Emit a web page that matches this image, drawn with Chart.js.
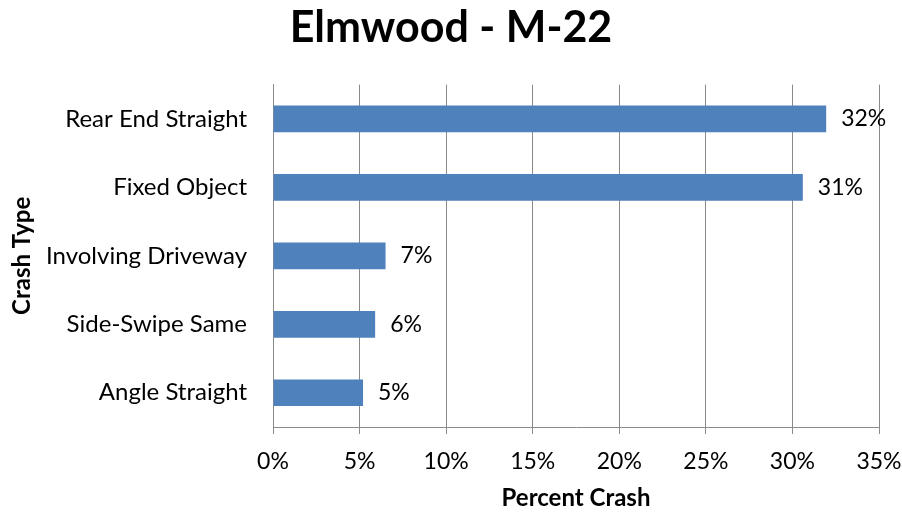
<!DOCTYPE html>
<html>
<head>
<meta charset="utf-8">
<title>Elmwood - M-22</title>
<script src="https://cdn.jsdelivr.net/npm/chart.js@4"></script>
<style>
    html, body { margin:0; padding:0; background:#fff; }
    #contenedor { width:902px; height:513px; position:relative; }
</style>
</head>
<body>

<div id="contenedor">
    <canvas id="graficoChoques"></canvas>
</div>

<script>

const tiposChoque = [
    "Rear End Straight",
    "Fixed Object",
    "Involving Driveway",
    "Side-Swipe Same",
    "Angle Straight"
];

const porcentajes = [
    31.95,
    30.6,
    6.5,
    5.9,
    5.2
];

const ticksPorcentaje = [
    0, 5, 10, 15, 20, 25, 30, 35
];

const fuente = "Lato, 'Open Sans', sans-serif";

// etiquetas al final de cada barra
const etiquetasBarras = {

    id:"etiquetasBarras",

    afterDatasetsDraw(chart){

        const ctx = chart.ctx;

        const meta = chart.getDatasetMeta(0);

        ctx.save();

        ctx.font = `23px ${fuente}`;
        ctx.fillStyle = "#000";
        ctx.textAlign = "left";
        ctx.textBaseline = "middle";

        meta.data.forEach((barra, i) => {

            ctx.fillText(
                `${Math.round(porcentajes[i])}%`,
                barra.x + 15,
                barra.y
            );

        });

        ctx.restore();

    }

};

window.onload = () => {

    new Chart(

        document.getElementById(
            "graficoChoques"
        ),

        {

            type:"bar",

            data:{

                labels:
                tiposChoque,

                datasets:[{

                    label:
                    "Percent Crash",

                    data:
                    porcentajes,

                    backgroundColor:"#4F81BD",

                    barPercentage:0.39,

                    categoryPercentage:1

                }]

            },

            options:{

                indexAxis:"y",

                responsive:true,

                maintainAspectRatio:false,

                animation:false,

                layout:{
                    padding:0
                },

                plugins:{

                    legend:{ display:false },

                    tooltip:{ enabled:false },

                    title:{
                        display:true,
                        text:"Elmwood - M-22",
                        color:"#000",
                        font:{ family:fuente, size:43, weight:"bold", lineHeight:1.2 },
                        padding:{ top:2, bottom:31 }
                    }

                },

                scales:{

                    x:{

                        min:0,

                        max:35,

                        afterBuildTicks:(escala) => {
                            escala.ticks = ticksPorcentaje.map(v => ({ value:v }));
                        },

                        afterFit:(escala) => {
                            escala.height = 86;
                            escala.paddingRight = 23;
                        },

                        grid:{
                            color:"#8a8a8a",
                            lineWidth:1,
                            drawTicks:true,
                            tickLength:7
                        },

                        border:{
                            display:true,
                            color:"#8a8a8a",
                            width:1
                        },

                        ticks:{
                            color:"#000",
                            padding:14,
                            font:{ family:fuente, size:23 },
                            callback:(v) => `${v}%`
                        },

                        title:{
                            display:true,
                            text:"Percent Crash",
                            color:"#000",
                            font:{ family:fuente, size:24, weight:"bold", lineHeight:1.2 },
                            padding:{ top:0, bottom:0 }
                        }

                    },

                    y:{

                        afterFit:(escala) => {
                            escala.width = 273;
                        },

                        grid:{
                            display:false,
                            drawTicks:false
                        },

                        border:{
                            display:true,
                            color:"#8a8a8a",
                            width:1
                        },

                        ticks:{
                            color:"#000",
                            padding:26,
                            font:{ family:fuente, size:24 }
                        },

                        title:{
                            display:true,
                            text:"Crash Type",
                            color:"#000",
                            font:{ family:fuente, size:24, weight:"bold", lineHeight:1.2 },
                            padding:{ top:8, bottom:0 }
                        }

                    }

                }

            },

            plugins:[ etiquetasBarras ]

        }

    );

};

</script>

</body>
</html>
